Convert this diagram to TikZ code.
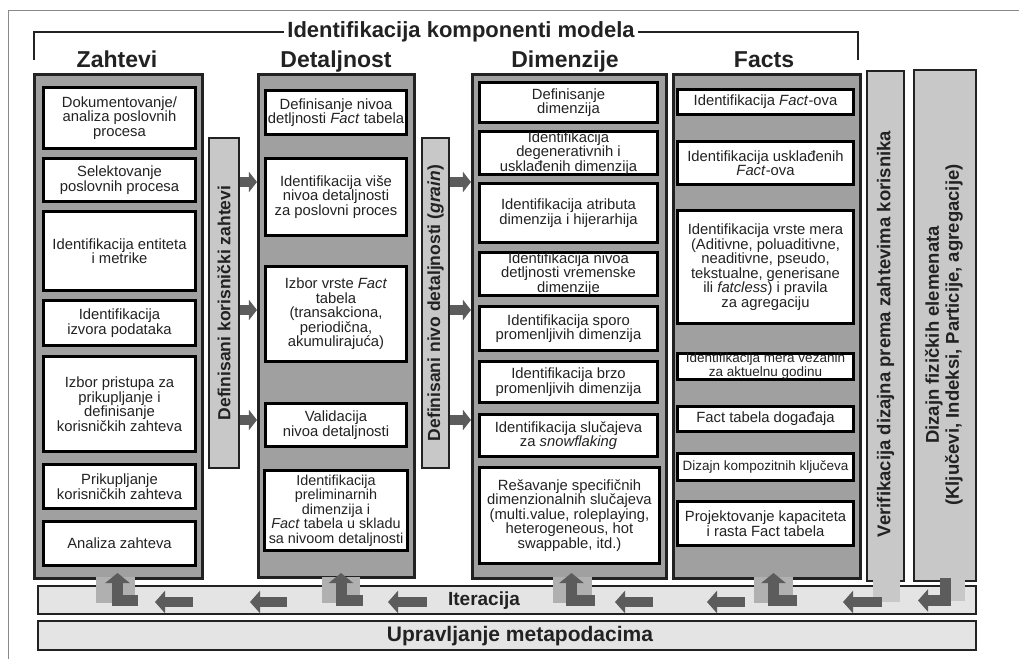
\documentclass[tikz,border=0pt]{standalone}
\usepackage{fontspec}
\setmainfont{Liberation Sans}
\usetikzlibrary{arrows.meta}
\definecolor{panelgray}{HTML}{A0A0A0}
\definecolor{bargray}{HTML}{C8C8C8}
\definecolor{itergray}{HTML}{E4E4E4}
\definecolor{arrgray}{HTML}{5C5C5C}
\definecolor{tabgray}{HTML}{B0B0B0}
\definecolor{edgec}{HTML}{222222}
\definecolor{framegray}{HTML}{8A8A8A}
\newcommand\rbox[7]{%
  \pgfmathsetmacro\rbcx{(#3+#5)/2}%
  \pgfmathsetmacro\rbcy{(#4+#6)/2}%
  \pgfmathsetmacro\rbw{#5-#3-2.5}%
  \pgfmathsetmacro\rbh{#6-#4-2.5}%
  \node[#1, minimum width=\rbw pt, minimum height=\rbh pt] (#2) at (\rbcx,\rbcy) {#7};}
\begin{document}
\begin{tikzpicture}[x=1pt,y=-1pt,
 panel/.style={draw=edgec, line width=2.6pt, fill=panelgray, inner sep=0pt},
 ibox/.style={draw=black, line width=2.8pt, fill=white, inner sep=0pt, align=center, font=\fontsize{14.8}{14.5}\selectfont, text=edgec},
 smalltext/.style={font=\fontsize{13.5}{14}\selectfont},
 vbar/.style={draw=edgec, line width=2.4pt, fill=bargray, inner sep=0pt},
 hbar/.style={draw=edgec, line width=2.4pt, fill=itergray, inner sep=0pt},
 bartext/.style={rotate=90, font=\bfseries\fontsize{17.5}{19}\selectfont, align=center, text=edgec, inner sep=0pt},
 headtext/.style={font=\bfseries\fontsize{23}{26}\selectfont, text=edgec},
 flow/.style={draw=arrgray, line width=10pt, -{Triangle[width=20pt,length=8pt]}},
 iter/.style={draw=arrgray, line width=10pt, line join=miter, -{Triangle[width=22pt,length=10pt]}},
 bracket/.style={draw=edgec, line width=1.4pt},
]
\useasboundingbox (0,0) rectangle (1019,659);
\fill[white] (0,0) rectangle (1019,659);
\draw[framegray, line width=0.8pt] (8,659) -- (8,10) -- (1019,10);

% title and bracket
\node[font=\bfseries\fontsize{22}{25}\selectfont, text=edgec, inner sep=3pt] (title) at (461,32) {Identifikacija komponenti modela};
\coordinate (lbr) at (34,60);
\coordinate (rbr) at (858,60);
\draw[bracket] (title.west) -| (lbr);
\draw[bracket] (title.east) -| (rbr);

% headers
\node[headtext, anchor=base] (hz) at (117,67) {Zahtevi};
\node[headtext, anchor=base] (hd) at (336,67) {Detaljnost};
\node[headtext, anchor=base] (hm) at (565,67) {Dimenzije};
\node[headtext, anchor=base] (hf) at (764,67) {Facts};

% panels
\rbox{panel}{zah}{33}{73}{204}{580}{}
\rbox{panel}{det}{257}{73}{416}{579}{}
\rbox{panel}{dim}{471}{73}{668}{580}{}
\rbox{panel}{fac}{672}{73}{862}{580}{}

% Zahtevi boxes
\rbox{ibox}{z1}{42}{86}{197}{150}{Dokumentovanje/\\analiza poslovnih\\procesa}
\rbox{ibox}{z2}{42}{157}{197}{203}{Selektovanje\\poslovnih procesa}
\rbox{ibox}{z3}{42}{210}{197}{292}{Identifikacija entiteta\\i metrike}
\rbox{ibox}{z4}{42}{299}{197}{347}{Identifikacija\\izvora podataka}
\rbox{ibox}{z5}{42}{355}{197}{453}{Izbor pristupa za\\prikupljanje i\\definisanje\\korisničkih zahteva}
\rbox{ibox}{z6}{42}{463}{197}{510}{Prikupljanje\\korisničkih zahteva}
\rbox{ibox}{z7}{42}{520}{197}{567}{Analiza zahteva}

% Detaljnost boxes
\rbox{ibox}{d1}{264}{89}{408}{136}{Definisanje nivoa\\detljnosti \textit{Fact} tabela}
\rbox{ibox}{d2}{264}{157}{408}{237}{Identifikacija više\\nivoa detaljnosti\\za poslovni proces}
\rbox{ibox}{d3}{264}{265}{408}{363}{Izbor vrste \textit{Fact}\\tabela\\(transakciona,\\periodična,\\akumulirajuća)}
\rbox{ibox}{d4}{264}{402}{408}{448}{Validacija\\nivoa detaljnosti}
\rbox{ibox, font=\fontsize{14.4}{14.5}\selectfont}{d5}{263}{469}{409}{552}{Identifikacija\\preliminarnih\\dimenzija i\\\textit{Fact} tabela u skladu\\sa nivoom detaljnosti}

% Dimenzije boxes
\rbox{ibox}{m1}{478}{81}{659}{124}{Definisanje\\dimenzija}
\rbox{ibox}{m2}{478}{130}{659}{176}{Identifikacija\\degenerativnih i\\usklađenih dimenzija}
\rbox{ibox}{m3}{478}{182}{659}{244}{Identifikacija atributa\\dimenzija i hijerarhija}
\rbox{ibox}{m4}{478}{251}{659}{297}{Identifikacija nivoa\\detljnosti vremenske\\dimenzije}
\rbox{ibox}{m5}{478}{305}{659}{352}{Identifikacija sporo\\promenljivih dimenzija}
\rbox{ibox}{m6}{478}{360}{659}{404}{Identifikacija brzo\\promenljivih dimenzija}
\rbox{ibox}{m7}{478}{413}{659}{458}{Identifikacija slučajeva\\za \textit{snowflaking}}
\rbox{ibox}{m8}{478}{466}{661}{565}{Rešavanje specifičnih\\dimenzionalnih slučajeva\\(multi.value, roleplaying,\\heterogeneous, hot\\swappable, itd.)}

% Facts boxes
\rbox{ibox}{f1}{676}{88}{855}{116}{Identifikacija \textit{Fact}-ova}
\rbox{ibox}{f2}{676}{140}{855}{186}{Identifikacija usklađenih\\\textit{Fact}-ova}
\rbox{ibox}{f3}{676}{209}{855}{325}{Identifikacija vrste mera\\(Aditivne, poluaditivne,\\neaditivne, pseudo,\\tekstualne, generisane\\ili \textit{fatcless}) i pravila\\za agregaciju}
\rbox{ibox, smalltext}{f4}{676}{352}{855}{381}{Identifikacija mera vezanih\\za aktuelnu godinu}
\rbox{ibox}{f5}{676}{405}{855}{433}{Fact tabela događaja}
\rbox{ibox, smalltext}{f6}{676}{452}{855}{482}{Dizajn kompozitnih ključeva}
\rbox{ibox}{f7}{676}{500}{855}{547}{Projektovanje kapaciteta\\i rasta Fact tabela}

% vertical bars
\rbox{vbar}{b1}{208}{137}{240}{469}{}
\rbox{vbar}{b2}{421}{137}{450}{469}{}
\rbox{vbar}{ver}{866}{70}{905}{582}{}
\rbox{vbar}{diz}{913}{69}{977}{582}{}
\node[bartext] (b1t) at (b1) {Definisani korisnički zahtevi};
\node[bartext] (b2t) at (b2) {Definisani nivo detaljnosti (\textit{grain})};
\node[bartext, font=\bfseries\fontsize{18.5}{20}\selectfont] (vert) at (885.5,334) {Verifikacija dizajna prema zahtevima korisnika};
\node[bartext, font=\bfseries\fontsize{18.5}{20}\selectfont] (dizt) at (944,335) {Dizajn fizičkih elemenata\\(Ključevi, Indeksi, Particije, agregacije)};

% flow arrows
\coordinate (ya) at (0,182);
\coordinate (yb) at (0,310);
\coordinate (yc) at (0,420);
\foreach \yy in {ya,yb,yc}{
  \draw[flow] (b1.east |- \yy) -- (det.west |- \yy);
  \draw[flow] (b2.east |- \yy) -- (dim.west |- \yy);
}

% bottom bars
\rbox{hbar}{itb}{37}{585}{977}{615}{}
\rbox{hbar}{upr}{37}{620}{977}{651}{}
\node[font=\bfseries\fontsize{19}{22}\selectfont, text=edgec] (itt) at (484,601) {Iteracija};
\node[font=\bfseries\fontsize{21}{24}\selectfont, text=edgec] (uprt) at (520,636) {Upravljanje metapodacima};

% tabs
\fill[tabgray] (96,577) rectangle (135,603);
\fill[tabgray] (322,577) rectangle (360,603);
\fill[tabgray] (553,577) rectangle (592,603);
\fill[tabgray] (754,577) rectangle (793,603);
\fill[bargray] (873,580) rectangle (900,602);
\fill[bargray] (950,580) rectangle (965,601);

% L arrows up into panels
\coordinate (u1s) at (138,600.5); \coordinate (u1e) at (117.5,573);
\coordinate (u2s) at (363,600.5); \coordinate (u2e) at (341,573);
\coordinate (u3s) at (595,600.5); \coordinate (u3e) at (571.5,573);
\coordinate (u4s) at (797,600.5); \coordinate (u4e) at (773.5,573);
\foreach \i in {1,2,3,4}{
  \draw[iter, line width=11pt, -{Triangle[width=24pt,length=10pt]}] (u\i s) -| (u\i e);
}
% L arrow from Dizajn
\coordinate (dls) at (945,578); \coordinate (dle) at (918,600.5);
\draw[iter, line width=11pt] (dls) |- (dle);

% iteration arrows
\coordinate (a1s) at (193,602); \coordinate (a1e) at (155,602);
\coordinate (a2s) at (287,602); \coordinate (a2e) at (250,602);
\coordinate (a3s) at (427,602); \coordinate (a3e) at (388,602);
\coordinate (a4s) at (653,602); \coordinate (a4e) at (615,602);
\coordinate (a5s) at (745,602); \coordinate (a5e) at (707,602);
\coordinate (a6s) at (882,602); \coordinate (a6e) at (843,602);
\foreach \i in {1,...,6}{
  \draw[iter] (a\i s) -- (a\i e);
}
\end{tikzpicture}
\end{document}
